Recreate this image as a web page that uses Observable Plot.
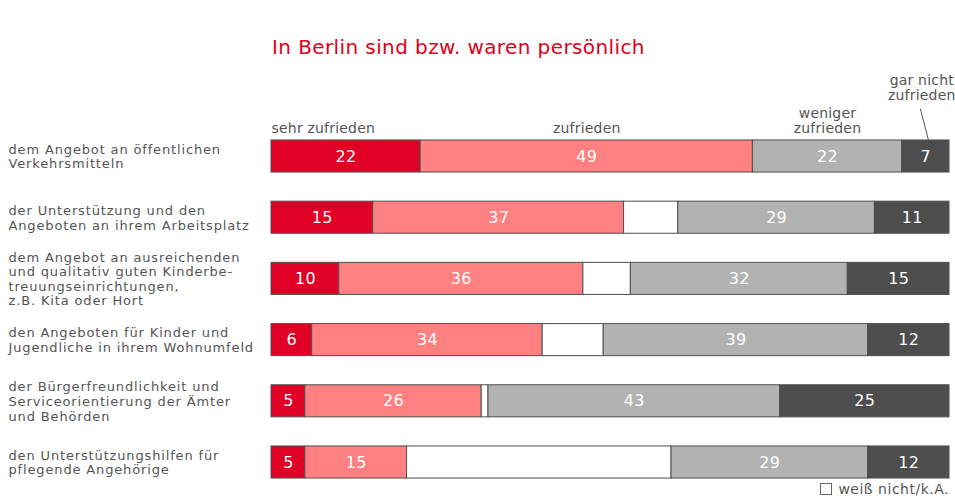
<!DOCTYPE html>
<html><head><meta charset="utf-8">
<script src="https://cdn.jsdelivr.net/npm/d3@7"></script>
<script src="https://cdn.jsdelivr.net/npm/@observablehq/plot@0.6"></script>
<style>
body{margin:0;background:#fff;}
#wrap{position:relative;width:955px;height:499px;font-family:"DejaVu Sans",Verdana,sans-serif;}
#chart{position:absolute;left:0;top:0;}
#title{position:absolute;left:272px;top:35px;font-size:20px;letter-spacing:0.4px;color:#e2001a;white-space:nowrap;}
#legend{position:absolute;right:6px;top:481px;font-size:14px;letter-spacing:0.5px;color:#555;white-space:nowrap;display:flex;align-items:center;}
#legend .box{display:inline-block;width:10px;height:10px;border:1px solid #666;margin-right:6px;background:#fff;}
svg .lbl{letter-spacing:0.85px;}
svg .num{letter-spacing:0.3px;}
svg .hdr{letter-spacing:0.2px;}
</style></head><body>
<div id="wrap">
  <div id="chart"></div>
  <div id="title">In Berlin sind bzw. waren persönlich</div>
  <div id="legend"><span class="box"></span><span id="legendText"></span></div>
</div>
<script>
const items = [
  "dem Angebot an öffentlichen\nVerkehrsmitteln",
  "der Unterstützung und den\nAngeboten an ihrem Arbeitsplatz",
  "dem Angebot an ausreichenden\nund qualitativ guten Kinderbe-\ntreuungseinrichtungen,\nz.B. Kita oder Hort",
  "den Angeboten für Kinder und\nJugendliche in ihrem Wohnumfeld",
  "der Bürgerfreundlichkeit und\nServiceorientierung der Ämter\nund Behörden",
  "den Unterstützungshilfen für\npflegende Angehörige"
];
const sehrZufrieden     = [22, 15, 10,  6,  5,  5];
const zufrieden         = [49, 37, 36, 34, 26, 15];
const weissNicht        = [ 0,  8,  7,  9,  1, 39];
const wenigerZufrieden  = [22, 29, 32, 39, 43, 29];
const garNichtZufrieden = [ 7, 11, 15, 12, 25, 12];

const categories = ["sehr zufrieden", "zufrieden", "weiß nicht/k.A.", "weniger zufrieden", "gar nicht zufrieden"];
const headerLabels = ["sehr zufrieden", "zufrieden", "", "weniger\nzufrieden", "gar nicht\nzufrieden"];
const colors = ["#e00025", "#ff8080", "#ffffff", "#b2b2b2", "#4d4d4d"];
const series = [sehrZufrieden, zufrieden, weissNicht, wenigerZufrieden, garNichtZufrieden];

document.getElementById("legendText").textContent = categories[2];

// build table with cumulative stacking
const table = [];
items.forEach((item, i) => {
  let acc = 0;
  categories.forEach((cat, j) => {
    const v = series[j][i];
    table.push({row: i, item, cat, value: v, x1: acc, x2: acc + v, k: j});
    acc += v;
  });
});

const first = table.filter(d => d.row === 0);
const headers = first.map((d, j) => ({...d, label: headerLabels[j]})).filter(d => d.label);
const half = 0.262;
const hdrFont = "'DejaVu Sans', sans-serif";

const chart = Plot.plot({
  width: 955,
  height: 499,
  marginLeft: 271,
  marginRight: 6,
  marginTop: 0,
  marginBottom: 0,
  x: {domain: [0, 100], axis: null},
  y: {type: "linear", domain: [0, 5], range: [156, 462], axis: null},
  color: {domain: categories, range: colors},
  style: {fontFamily: "'DejaVu Sans', Verdana, sans-serif", background: "white"},
  marks: [
    Plot.rectX(table.filter(d => d.value > 0), {
      x1: "x1", x2: "x2",
      y1: d => d.row - half, y2: d => d.row + half,
      fill: "cat", stroke: "#505050", strokeWidth: 1
    }),
    Plot.text(table.filter(d => d.value > 0 && d.k !== 2), {
      x: d => (d.x1 + d.x2) / 2, y: "row",
      text: d => String(d.value),
      fill: "white", fontSize: 16, className: "num"
    }),
    Plot.text(items.map((t, i) => ({t, i})), {
      x: 0, y: "i", text: "t", textAnchor: "start", dx: -263, dy: 0,
      lineHeight: 1.12, fontSize: 13, fill: "#555", className: "lbl"
    }),
    // column headers above first bar
    Plot.text(headers.filter(d => d.k === 0), {
      x: "x1", y: () => -0.46, text: "label", textAnchor: "start",
      fontSize: 14, fill: "#555", fontFamily: hdrFont, className: "hdr"
    }),
    Plot.text(headers.filter(d => d.k === 1 || d.k === 3), {
      x: d => (d.x1 + d.x2) / 2, y: d => d.k === 1 ? -0.46 : -0.59, text: "label",
      lineHeight: 1.1, fontSize: 14, fill: "#555", fontFamily: hdrFont, className: "hdr"
    }),
    Plot.text(headers.filter(d => d.k === 4), {
      x: d => (d.x1 + d.x2) / 2, y: () => -1.12, text: "label", dx: -4,
      lineHeight: 1.07, fontSize: 14, fill: "#555", fontFamily: hdrFont, className: "hdr"
    }),
    Plot.link(first.filter(d => d.k === 4), {
      x1: d => (d.x1 + d.x2) / 2 - 0.8, y1: () => -0.78,
      x2: d => (d.x1 + d.x2) / 2 + 0.4, y2: () => -0.27,
      stroke: "#555", strokeWidth: 1
    })
  ]
});
document.getElementById("chart").appendChild(chart);
</script>
</body></html>
